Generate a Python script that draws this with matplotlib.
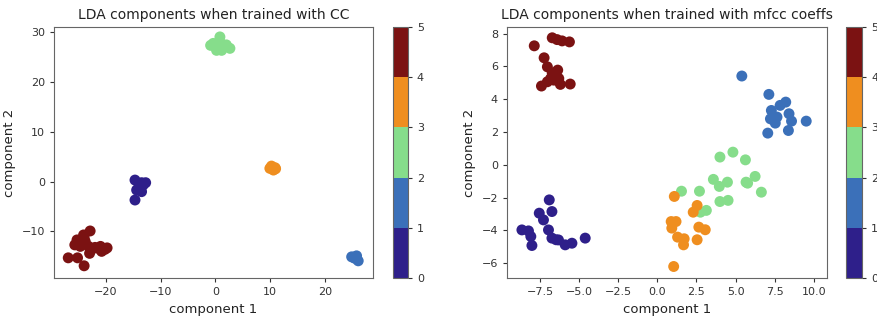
import numpy as np
import matplotlib
matplotlib.use("Agg")
import matplotlib.pyplot as plt
from matplotlib.colors import ListedColormap, BoundaryNorm
from matplotlib.cm import ScalarMappable

class_colors = ["#2e1f8a", "#3b70b9", "#86dd8b", "#ef8e1f", "#7b1212"]

# Left panel (CC)
cc_x = {
    0: [-14.7, -13.5, -12.75, -14.4, -13.5, -13.8, -14.7, -13.2, -14.0],
    1: [24.9, 25.5, 26.1, 25.8, 25.2],
    2: [-0.88, 0.82, 0.82, 1.43, 2.65, 0.21, -0.4, 1.13, 2.0],
    3: [9.95, 10.9, 10.25, 10.6, 11.0],
    4: [-22.9, -24.1, -25.3, -25.7, -24.5, -24.7, -23.2, -23.0, -21.4, -20.2, -20.8, -26.9, -25.2, -24.0,
        -22.3, -24.7, -24.0, -25.0, -23.8, -22.0, -21.0, -19.8],
}
cc_y = {
    0: [0.33, -0.2, -0.2, -1.67, -2.0, -1.0, -3.68, -0.67, -1.2],
    1: [-15.1, -15.4, -15.9, -14.9, -15.2],
    2: [27.4, 29.1, 28.1, 27.1, 26.8, 26.4, 27.8, 26.4, 27.5],
    3: [2.68, 2.81, 3.14, 2.34, 2.6],
    4: [-9.9, -10.7, -11.7, -12.7, -11.7, -13.0, -13.0, -14.4, -13.4, -13.6, -14.0, -15.3, -15.3, -16.9,
        -13.4, -12.4, -11.2, -12.2, -12.0, -13.2, -13.0, -13.3],
}

# Right panel (mfcc)
mf_x = {
    0: [-6.92, -7.56, -6.75, -7.29, -6.97, -8.67, -8.25, -8.1, -8.03, -6.75, -6.33, -5.9, -5.47, -4.62, -6.48],
    1: [5.40, 7.13, 7.29, 7.23, 7.54, 7.85, 8.21, 8.42, 8.58, 8.38, 9.52, 7.06, 7.65],
    2: [4.0, 4.83, 5.63, 3.58, 3.96, 4.48, 5.67, 6.25, 6.65, 1.54, 2.69, 4.0, 4.52, 3.13, 2.75, 5.77],
    3: [1.08, 2.54, 2.29, 0.88, 1.19, 0.92, 2.65, 3.06, 1.29, 1.71, 1.67, 2.54, 1.04],
    4: [-7.88, -6.73, -6.42, -6.10, -5.63, -7.25, -7.04, -6.38, -6.52, -6.83, -7.42, -7.04, -6.63, -6.21, -5.58, -6.31, -6.73],
}
mf_y = {
    0: [-2.14, -2.95, -2.85, -3.36, -3.97, -3.97, -4.03, -4.37, -4.92, -4.47, -4.58, -4.88, -4.78, -4.47, -4.57],
    1: [5.41, 4.29, 3.31, 2.80, 2.54, 3.62, 3.82, 3.11, 2.66, 2.09, 2.66, 1.93, 2.91],
    2: [0.47, 0.77, 0.30, -0.89, -1.32, -1.06, -1.06, -0.71, -1.67, -1.61, -1.61, -2.24, -2.17, -2.78, -2.89, -1.12],
    3: [-1.93, -2.48, -2.89, -3.46, -3.46, -3.86, -3.80, -3.96, -4.41, -4.51, -4.88, -4.57, -6.20],
    4: [7.25, 7.74, 7.63, 7.55, 7.49, 6.52, 5.97, 5.77, 5.46, 5.26, 4.8, 5.06, 5.16, 4.9, 4.92, 5.26, 5.6],
}

titles = ["LDA components when trained with CC", "LDA components when trained with mfcc coeffs"]
xlabel = "component 1"
ylabel = "component 2"
cbar_ticks = [0, 1, 2, 3, 4, 5]

fig = plt.figure(figsize=(8.77, 3.21), dpi=100)
cmap = ListedColormap(class_colors)
norm = BoundaryNorm(cbar_ticks, cmap.N)

ax_pos = [[0.0616, 0.134, 0.3637, 0.782], [0.578, 0.134, 0.365, 0.782]]
cb_pos = [[0.448, 0.134, 0.0171, 0.782], [0.9647, 0.134, 0.0182, 0.782]]
datasets = [(cc_x, cc_y), (mf_x, mf_y)]
limits = [((-29.5, 28.8), (-19.35, 31.1)), ((-9.63, 10.85), (-6.9, 8.4))]
xticks = [[-20, -10, 0, 10, 20], [-7.5, -5.0, -2.5, 0.0, 2.5, 5.0, 7.5, 10.0]]
yticks = [[-10, 0, 10, 20, 30], [-6, -4, -2, 0, 2, 4, 6, 8]]

for i in range(2):
    ax = fig.add_axes(ax_pos[i])
    xs, ys = datasets[i]
    for c in range(5):
        ax.scatter(xs[c], ys[c], s=62, color=class_colors[c], edgecolors="none")
    ax.set_xlim(*limits[i][0])
    ax.set_ylim(*limits[i][1])
    ax.set_xticks(xticks[i])
    ax.set_yticks(yticks[i])
    ax.tick_params(labelsize=8, colors="#333333", length=3)
    for sp in ax.spines.values():
        sp.set_color("#666666")
    ax.set_title(titles[i], fontsize=10, color="#222222", pad=6)
    ax.set_xlabel(xlabel, fontsize=9.5, color="#222222")
    ax.set_ylabel(ylabel, fontsize=9.5, color="#222222")
    cax = fig.add_axes(cb_pos[i])
    sm = ScalarMappable(norm=norm, cmap=cmap)
    cb = fig.colorbar(sm, cax=cax, ticks=cbar_ticks)
    cb.ax.tick_params(labelsize=8, colors="#333333", length=3)
    cb.outline.set_edgecolor("#666666")

fig.savefig("out.png", dpi=100)
